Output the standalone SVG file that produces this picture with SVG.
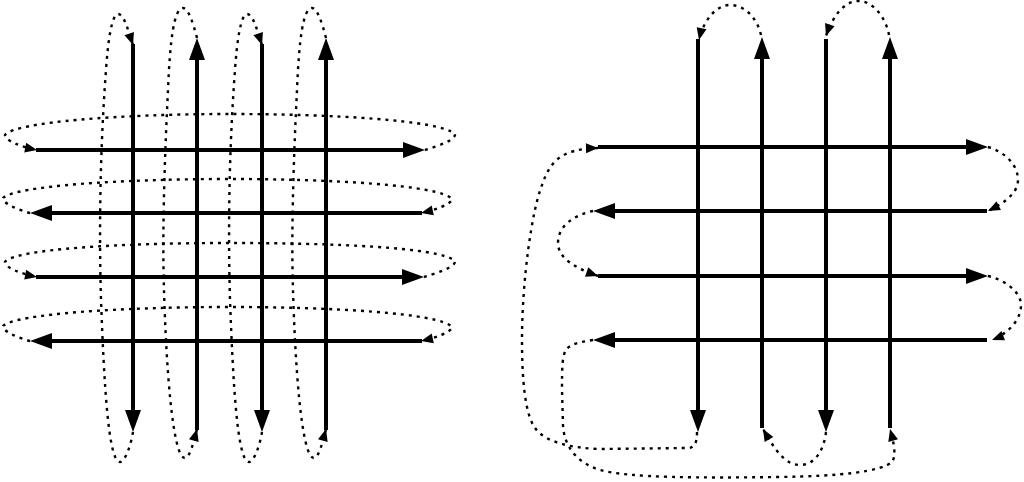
<svg xmlns="http://www.w3.org/2000/svg" width="1024" height="482" viewBox="0 0 1024 482">
<style>
.s{fill:none;stroke:#000;stroke-width:4;marker-end:url(#big)}
.d{fill:none;stroke:#000;stroke-width:2.4;stroke-dasharray:3 5;marker-end:url(#sm)}
</style>
<defs>
<marker id="big" markerUnits="userSpaceOnUse" markerWidth="22" markerHeight="16" refX="0" refY="8" orient="auto" overflow="visible"><path d="M0,0 L22,8 L0,16 z" fill="#000"/></marker>
<marker id="sm" markerUnits="userSpaceOnUse" markerWidth="12" markerHeight="10" refX="12" refY="5" orient="auto" overflow="visible"><path d="M0,0 L12,5 L0,10 z" fill="#000"/></marker>
</defs>
<rect width="1024" height="482" fill="#fff"/>
<g id="left-scan">
<g id="left-lines">
<path class="s" d="M36,150 L403,150"/>
<path class="s" d="M422,213 L52,213"/>
<path class="s" d="M36,277 L402,277"/>
<path class="s" d="M422,341 L52,341"/>
<path class="s" d="M133,44 L133,410"/>
<path class="s" d="M197,430 L197,60"/>
<path class="s" d="M262,44 L262,410"/>
<path class="s" d="M326,430 L326,60"/>
</g>
<g id="left-connectors">
<path class="d" d="M425,150 C438,146 456,140 455,134 C440,120 330,114 230,114 C120,114 15,122 5,135 C5,141 22,147 37,150"/>
<path class="d" d="M30,213 C18,210 2,203 3,198 C15,186 120,179 230,179 C330,179 440,185 452,199 C452,204 435,210 421,213"/>
<path class="d" d="M424,277 C437,273 456,267 455,261 C440,247 330,243 230,243 C120,243 15,249 5,262 C5,268 22,274 37,277"/>
<path class="d" d="M30,341 C18,338 2,331 3,326 C15,314 120,307 230,307 C330,307 440,313 452,327 C452,332 435,338 421,341"/>
<path class="d" d="M133,432 C131,445 125,462 120,462 C108,462 104,380 101,300 C99,230 100,150 106,70 C108,40 112,14 118,14 C124,14 128,30 133,45"/>
<path class="d" d="M197,38 C193,22 188,8 183,8 C174,8 170,40 168,90 C165,150 162,230 164,290 C166,360 172,458 185,458 C190,458 194,440 197,429"/>
<path class="d" d="M262,432 C260,445 254,462 249,462 C237,462 233,380 230,300 C228,230 229,150 235,70 C237,40 241,14 247,14 C253,14 257,30 262,45"/>
<path class="d" d="M326,38 C322,22 317,8 312,8 C303,8 299,40 297,90 C294,150 291,230 293,290 C295,360 301,458 314,458 C319,458 323,440 326,429"/>
</g>
</g>
<g id="right-scan">
<g id="right-lines">
<path class="s" d="M598,147 L966,147"/>
<path class="s" d="M987,211 L615,211"/>
<path class="s" d="M598,276 L966,276"/>
<path class="s" d="M987,340 L615,340"/>
<path class="s" d="M698,39 L698,410"/>
<path class="s" d="M762,428 L762,59"/>
<path class="s" d="M826,39 L826,410"/>
<path class="s" d="M890,428 L890,59"/>
</g>
<g id="right-connectors">
<path class="d" d="M761,35 C757,18 745,5 730,5 C715,5 703,22 699,40"/>
<path class="d" d="M889,35 C886,18 873,0 857,1 C843,2 832,18 826,36"/>
<path class="d" d="M826,432 C824,450 815,465 800,465 C785,465 775,450 763,429"/>
<path class="d" d="M988,147 C1005,152 1018,165 1018,180 C1018,195 1000,205 988,211"/>
<path class="d" d="M593,211 C575,215 558,225 558,243 C558,258 575,268 598,276"/>
<path class="d" d="M988,276 C1005,280 1021,292 1021,305 C1021,322 1005,335 992,340"/>
<path class="d" d="M697,432 C697,444 694,448 688,448 L600,449 C570,448 545,442 535,428 C525,414 522,380 522,340 C522,280 532,210 542,185 C550,162 560,149 598,148"/>
<path class="d" d="M593,340 C580,342 570,344 566,350 C562,356 562,370 562,390 L563,425 C564,445 575,462 600,470 C630,478 700,478 780,477 C840,476 880,472 892,462 C897,455 893,440 890,429"/>
</g>
</g>
</svg>
